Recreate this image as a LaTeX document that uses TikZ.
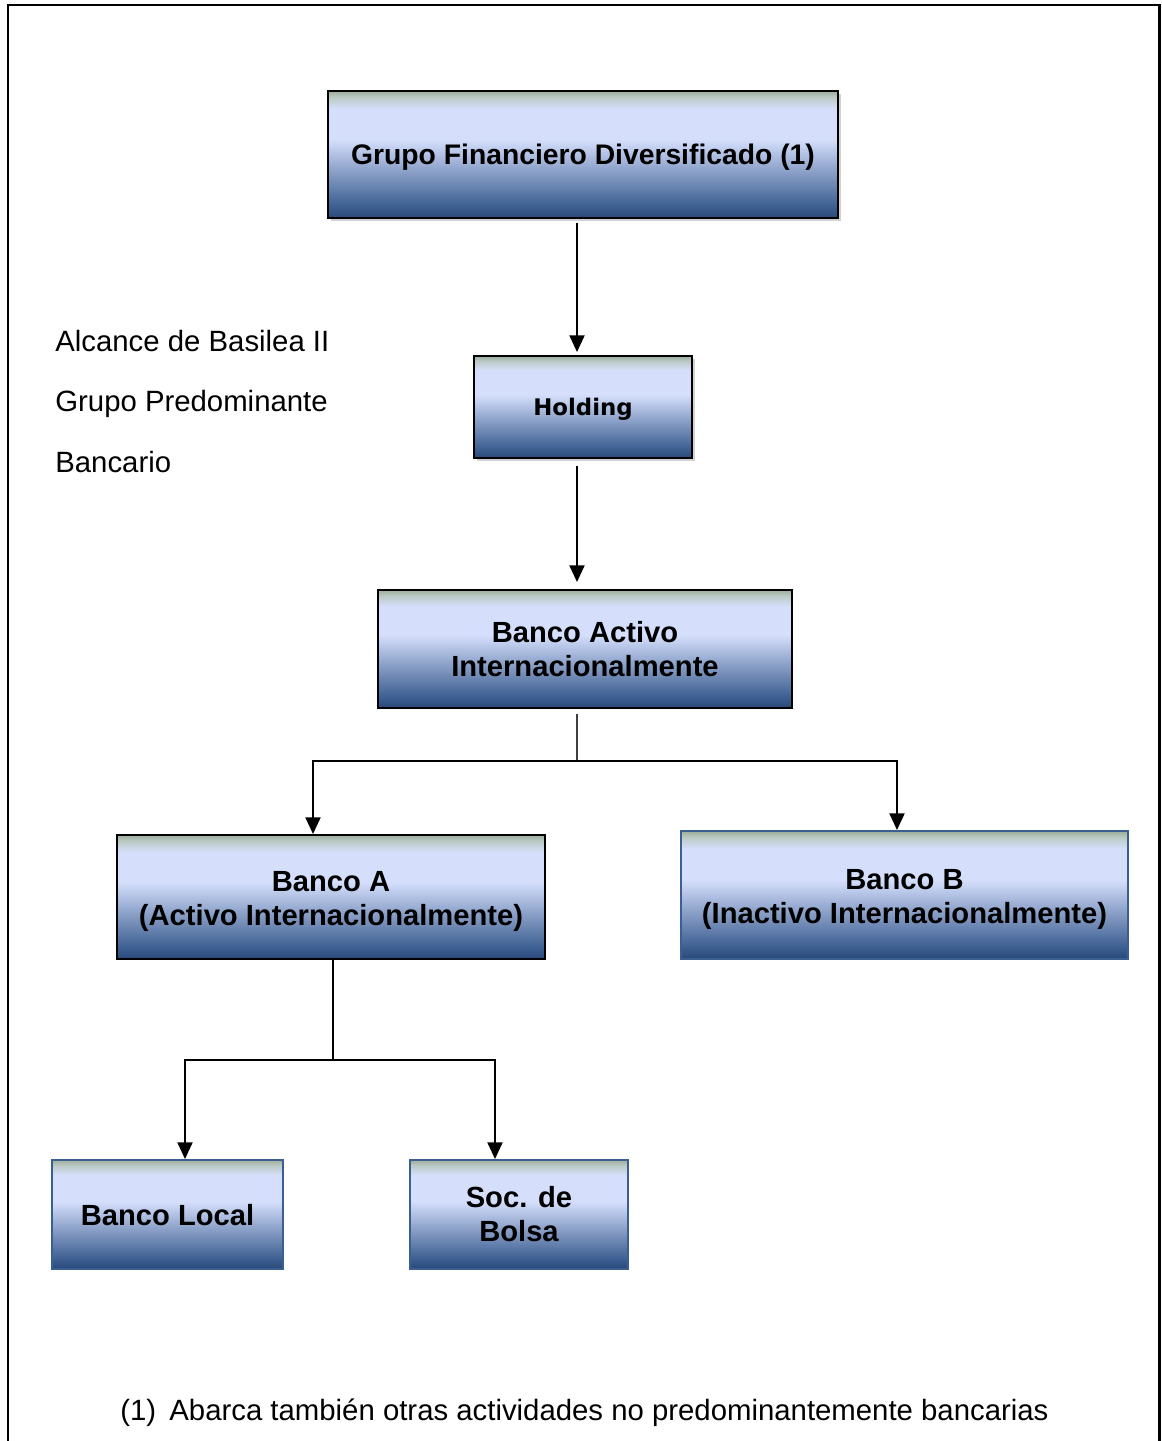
\documentclass[tikz,border=0pt]{standalone}
\usepackage{fontspec}
\setmainfont{Liberation Sans}
\newfontfamily\holdfont{DejaVu Sans}
\usetikzlibrary{arrows.meta,shadows,calc}
\definecolor{cdark}{HTML}{284879}
\definecolor{cmidA}{HTML}{3F6193}
\definecolor{cmidB}{HTML}{8EA3CA}
\definecolor{clight}{HTML}{D5DFFC}
\definecolor{cgreenA}{HTML}{BCCAC6}
\definecolor{cgreen}{HTML}{9CAE9A}
\definecolor{bblue}{HTML}{3B5F90}
\pgfdeclareverticalshading{boxshade}{100bp}{color(0bp)=(cdark); color(25bp)=(cdark); color(30bp)=(cmidA); color(44bp)=(cmidB); color(56bp)=(clight); color(68bp)=(clight); color(72.5bp)=(cgreenA); color(75bp)=(cgreen); color(100bp)=(cgreen)}
\newcommand{\lowtxt}[2]{\smash{\raisebox{-#1}{\begin{tabular}{@{}c@{}}#2\end{tabular}}}}
\tikzset{
  box/.style={shading=boxshade, draw=black, line width=1.1pt, inner sep=0pt, align=center,
    font=\bfseries\fontsize{16.6}{19.4}\selectfont},
  bluebox/.style={box, draw=bblue},
  shad/.style={drop shadow={shadow xshift=1.5pt, shadow yshift=-1.5pt, opacity=0.35}},
  arr/.style={draw=black, line width=1.2pt, -{Triangle[width=8.5pt,length=9.5pt]}},
  seg/.style={draw=black, line width=1.2pt},
  stem/.style={draw=black!75, line width=0.9pt},
  lbl/.style={font=\fontsize{16.7}{19.8}\selectfont, inner sep=0pt}
}
\begin{document}
\begin{tikzpicture}[x=0.02cm, y=-0.02cm]
\useasboundingbox (0,0) rectangle (1161,1441);
\fill[white] (0,0) rectangle (1161,1441);
\draw[line width=1.7pt] (8,1441) -- (8,5) -- (1159,5) -- (1159,1441);

\node[box, shad, minimum width=10.2cm, minimum height=2.54cm, font=\bfseries\fontsize{16.1}{19.4}\selectfont] (g) at (583,154.5) {\lowtxt{6.4pt}{Grupo Financiero Diversificado (1)}};
\node[box, shad, minimum width=4.36cm, minimum height=2.04cm, font=\holdfont\bfseries\fontsize{13}{16}\selectfont] (h) at (583,407) {\lowtxt{4.8pt}{Holding}};
\node[box, minimum width=8.28cm, minimum height=2.36cm] (ba) at (585,649) {\lowtxt{6.5pt}{Banco Activo\\Internacionalmente}};
\node[box, minimum width=8.56cm, minimum height=2.48cm] (a) at (331,897) {\lowtxt{6.8pt}{Banco A\\(Activo Internacionalmente)}};
\node[bluebox, minimum width=8.94cm, minimum height=2.56cm] (b) at (904.5,895) {\lowtxt{6.8pt}{Banco B\\(Inactivo Internacionalmente)}};
\node[bluebox, minimum width=4.62cm, minimum height=2.18cm] (bl) at (167.5,1214.5) {\lowtxt{6.5pt}{Banco Local}};
\node[bluebox, minimum width=4.36cm, minimum height=2.18cm] (sb) at (519,1214.5) {\lowtxt{6.2pt}{Soc. de\\Bolsa}};

\node[lbl, anchor=base west] (l1) at (55,351.5) {Alcance de Basilea II};
\node[lbl, anchor=base west] (l2) at (55,411.5) {Grupo Predominante};
\node[lbl, anchor=base west] (l3) at (55,472.5) {Bancario};
\node[lbl, anchor=base west] (fn) at (120,1420) {(1)\hspace{0.45em}Abarca también otras actividades no predominantemente bancarias};

\coordinate (j0) at (577,0);
\draw[arr] ($(g.south -| j0)+(0,4)$) -- ($(h.north -| j0)+(0,-3)$);
\draw[arr] ($(h.south -| j0)+(0,7)$) -- ($(ba.north -| j0)+(0,-7)$);

\coordinate (j1) at (577,761);
\draw[stem] ($(ba.south -| j1)+(0,5)$) -- (j1);
\draw[arr] (j1) -| ($(a.north)+(-18,0)$);
\draw[arr] (j1) -| ($(b.north)+(-7.5,0)$);

\coordinate (j2) at (333,1060);
\draw[seg] (a.south -| j2) -- (j2);
\draw[arr] (j2) -| ($(bl.north)+(17.5,0)$);
\draw[arr] (j2) -| ($(sb.north)+(-24,0)$);
\end{tikzpicture}
\end{document}
